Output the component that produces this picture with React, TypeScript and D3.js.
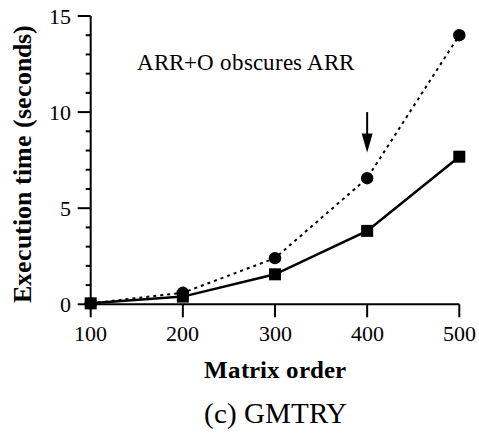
import React, { useEffect } from "react";
import * as d3 from "d3";

const matrixOrder = [100, 200, 300, 400, 500];
const arrOTimes = [0.05, 0.6, 2.4, 6.56, 14.0];
const arrTimes = [0.05, 0.4, 1.56, 3.82, 7.68];
const yMajorTicks = [0, 5, 10, 15];
const yMinorTicks = d3.range(0, 16, 1);
const annotationText = "ARR+O obscures ARR";
const arrowAt = { x: 400, from: 10.0, to: 7.9 };

const W = 479;
const H = 435;
const FONT = "ChartSerif, 'Liberation Serif', Tinos, 'Times New Roman', serif";
const reg = { fontFamily: FONT, fontWeight: 400 };
const bold = { fontFamily: FONT, fontWeight: 700 };

const fontCss = `
@font-face { font-family: 'ChartSerif'; font-weight: 400; font-style: normal;
  src: local('Liberation Serif'), local('LiberationSerif'), local('LiberationSerif-Regular'), local('Liberation Serif Regular'), local('Tinos'), local('Times New Roman'); }
@font-face { font-family: 'ChartSerif'; font-weight: 700; font-style: normal;
  src: local('Liberation Serif Bold'), local('LiberationSerif-Bold'), local('Tinos Bold'), local('Times New Roman Bold'); }
`;

export default function App() {
  useEffect(() => {
    document.body.style.margin = "0";
  }, []);
  const x = d3.scaleLinear().domain([100, 500]).range([90.7, 459.3]);
  const y = d3.scaleLinear().domain([0, 15]).range([304.3, 16]);
  const line = d3
    .line<number>()
    .x((_, i) => x(matrixOrder[i]))
    .y((d) => y(d));

  const ax = x(100);
  const ay = y(0);
  const arrowX = x(arrowAt.x);
  const headTop = y(arrowAt.to) - 19;
  const tip = y(arrowAt.to);

  return (
    <svg width={W} height={H} style={{ display: "block" }}>
      <style>{fontCss}</style>
      <rect x={0} y={0} width={W} height={H} fill="#fff" />
      <g>
        <line x1={ax} x2={ax} y1={y(15)} y2={ay} stroke="#000" strokeWidth={2} />
        {yMinorTicks.map((t) => (
          <line
            key={"m" + t}
            x1={ax - (yMajorTicks.includes(t) ? 13 : 5)}
            x2={ax}
            y1={y(t)}
            y2={y(t)}
            stroke="#000"
            strokeWidth={2}
          />
        ))}
        {yMajorTicks.map((t) => (
          <text key={"yl" + t} x={ax - 20} y={y(t)} dy="0.35em" textAnchor="end" fontSize={21.5} style={reg}>
            {t}
          </text>
        ))}
      </g>
      <g>
        <line x1={ax} x2={x(500)} y1={ay} y2={ay} stroke="#000" strokeWidth={2} />
        {matrixOrder.map((t) => (
          <g key={"xt" + t}>
            <line x1={x(t)} x2={x(t)} y1={ay} y2={ay + 13} stroke="#000" strokeWidth={2} />
            <text x={x(t)} y={340.5} textAnchor="middle" fontSize={21.5} style={reg}>
              {t}
            </text>
          </g>
        ))}
      </g>
      <text
        transform={`translate(31,${(y(15) + ay) / 2 + 4}) rotate(-90)`}
        textAnchor="middle"
        fontSize={26}
        style={bold}
      >
        Execution time (seconds)
      </text>
      <text x={(x(100) + x(500)) / 2} y={378} textAnchor="middle" fontSize={25} style={bold}>
        Matrix order
      </text>
      <text x={(x(100) + x(500)) / 2} y={423} textAnchor="middle" fontSize={29} style={reg}>
        (c) GMTRY
      </text>
      <path d={line(arrOTimes) || ""} fill="none" stroke="#000" strokeWidth={2} strokeDasharray="3,4" />
      {arrOTimes.map((v, i) => (
        <circle key={"c" + i} cx={x(matrixOrder[i])} cy={y(v)} r={6.2} fill="#000" />
      ))}
      <path d={line(arrTimes) || ""} fill="none" stroke="#000" strokeWidth={2.5} />
      {arrTimes.map((v, i) => (
        <rect key={"s" + i} x={x(matrixOrder[i]) - 6} y={y(v) - 6} width={12} height={12} fill="#000" />
      ))}
      <text x={137} y={70} fontSize={22.5} style={reg}>
        {annotationText}
      </text>
      <line x1={arrowX} x2={arrowX} y1={y(arrowAt.from)} y2={headTop + 2} stroke="#000" strokeWidth={2} />
      <path d={`M${arrowX - 5.5},${headTop} L${arrowX + 5.5},${headTop} L${arrowX},${tip} Z`} fill="#000" />
    </svg>
  );
}
